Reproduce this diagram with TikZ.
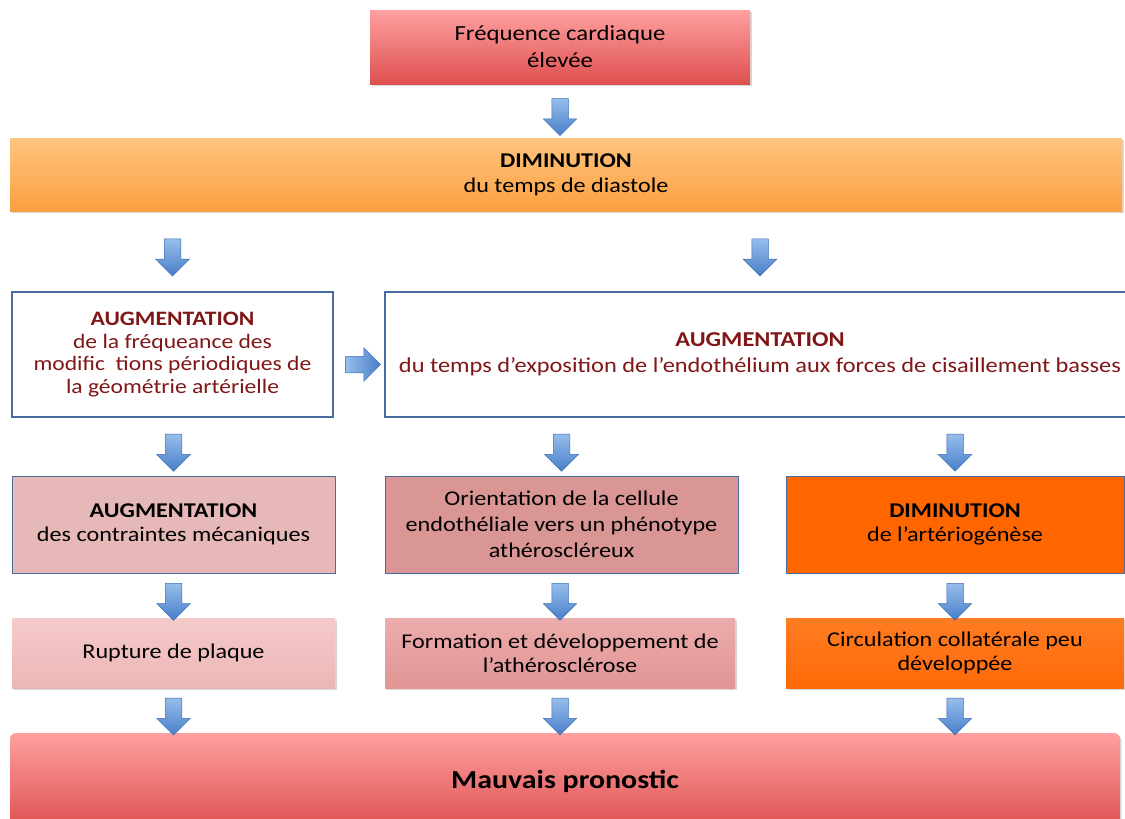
\documentclass[tikz,border=0pt]{standalone}
\usepackage{fontspec}
\setmainfont{Carlito}[FakeStretch=1.15]
\usepackage{tikz}
\usetikzlibrary{shapes.arrows, shadows, calc}

\definecolor{redtop}{RGB}{255,160,160}
\definecolor{redbot}{RGB}{222,80,80}
\definecolor{orgtop}{RGB}{255,196,126}
\definecolor{orgbot}{RGB}{251,160,64}
\definecolor{frameblue}{RGB}{70,108,160}
\definecolor{darkred}{RGB}{128,22,22}
\definecolor{pinkA}{RGB}{230,185,184}
\definecolor{pinkB}{RGB}{217,150,148}
\definecolor{orangeC}{RGB}{255,102,0}
\definecolor{pinkDtop}{RGB}{245,202,202}
\definecolor{pinkDbot}{RGB}{237,182,182}
\definecolor{pinkEtop}{RGB}{236,172,171}
\definecolor{pinkEbot}{RGB}{224,150,149}
\definecolor{orangeFtop}{RGB}{255,124,34}
\definecolor{orangeFbot}{RGB}{255,106,8}
\definecolor{arrtop}{RGB}{150,190,236}
\definecolor{arrbot}{RGB}{72,126,200}
\definecolor{arrline}{RGB}{62,110,180}

\begin{document}
\begin{tikzpicture}[x=1pt, y=-1pt,
  box/.style={align=center, inner sep=0pt, font=\fontsize{21}{24}\selectfont},
  shadowed/.style={drop shadow={opacity=0.3, shadow xshift=1.5pt, shadow yshift=-2pt}},
  redbox/.style={box, shadowed, top color=redtop, bottom color=redbot},
  orangebar/.style={box, shadowed, top color=orgtop, bottom color=orgbot},
  whitebox/.style={box, draw=frameblue, line width=1.2pt, fill=white, text=darkred},
  causebox/.style={box, draw=frameblue, line width=1pt},
  effectbox/.style={box, shadowed},
  downarr/.style={shape=single arrow, draw=arrline, line width=0.5pt,
    top color=arrtop, bottom color=arrbot, inner sep=8pt,
    minimum width=33pt, minimum height=37pt,
    single arrow head extend=8.5pt, shape border rotate=270},
  rightarr/.style={downarr, shape border rotate=0, minimum height=35pt,
    left color=arrtop, right color=arrbot}]

  \useasboundingbox[fill=white] (0,0) rectangle (1125,819);

  % top of the chain
  \node[redbox, minimum width=380pt, minimum height=74pt,
    font=\fontsize{21.5}{27}\selectfont] (freq) at (560,47) {Fréquence cardiaque\\élevée};
  \node[orangebar, minimum width=1112pt, minimum height=73pt,
    font=\fontsize{21}{25}\selectfont] (diast) at (566,174.5) {\textbf{DIMINUTION}\\du temps de diastole};

  % second row
  \node[whitebox, minimum width=321pt, minimum height=125pt,
    font=\fontsize{20.5}{22.5}\selectfont] (geom) at (172.5,354.5)
    {\textbf{AUGMENTATION}\\de la fréqueance des\\modific~~tions périodiques de\\la géométrie artérielle};
  \node[whitebox, minimum width=750pt, minimum height=125pt,
    font=\fontsize{21.2}{26}\selectfont] (expo) at (760,354.5)
    {\textbf{AUGMENTATION}\\du temps d’exposition de l’endothélium aux forces de cisaillement basses};

  % third row
  \node[causebox, fill=pinkA, minimum width=323pt, minimum height=97pt] (meca) at (173.5,524.5)
    {\textbf{AUGMENTATION}\\des contraintes mécaniques};
  \node[causebox, fill=pinkB, minimum width=353pt, minimum height=97pt,
    font=\fontsize{21}{26}\selectfont] (pheno) at (561.5,524.5)
    {Orientation de la cellule\\endothéliale vers un phénotype\\athéroscléreux};
  \node[causebox, fill=orangeC, minimum width=338pt, minimum height=97pt] (arterio) at (955,524.5)
    {\textbf{DIMINUTION}\\de l’artériogénèse};

  % fourth row
  \node[effectbox, top color=pinkDtop, bottom color=pinkDbot, minimum width=323pt,
    minimum height=70pt] (plaque) at (173.5,653) {Rupture de plaque};
  \node[effectbox, top color=pinkEtop, bottom color=pinkEbot, minimum width=350pt,
    minimum height=70pt] (athero) at (560,653) {Formation et développement de\\l’athérosclérose};
  \node[effectbox, top color=orangeFtop, bottom color=orangeFbot, minimum width=338pt,
    minimum height=70pt] (collat) at (955,653) {Circulation collatérale peu\\développée};

  % outcome
  \node[redbox, rounded corners=6pt, minimum width=1110pt, minimum height=96pt,
    font=\fontsize{26}{30}\selectfont\bfseries] (prono) at (565,781) {Mauvais pronostic};

  % block arrows
  \node[downarr, yshift=-2pt] (a0) at ($(freq.south)!0.5!(freq.south |- diast.north)$) {};
  \foreach \up/\low in {diast/geom, diast/expo, geom/meca, expo/pheno, expo/arterio,
      meca/plaque, pheno/athero, arterio/collat}
    \node[downarr, yshift=-2pt] at ($(\low.north)!0.5!(\low.north |- \up.south)$) {};
  \foreach \up in {plaque, athero, collat}
    \node[downarr, yshift=-2pt] at ($(\up.south)!0.5!(\up.south |- prono.north)$) {};
  \node[rightarr, yshift=-10pt] (a1) at ($(geom.east)!0.5!(expo.west)$) {};
\end{tikzpicture}
\end{document}
